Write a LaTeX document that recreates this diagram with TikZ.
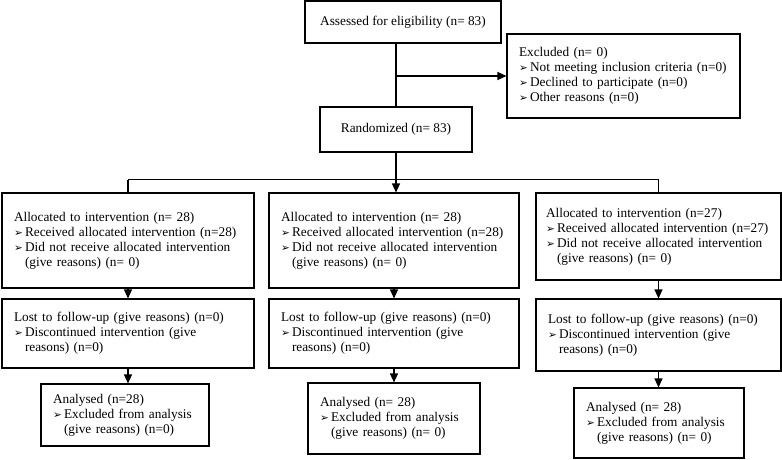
\documentclass[tikz,border=0pt]{standalone}
\usepackage{fontspec}
\setmainfont{Liberation Serif}
\newfontfamily\symfont{DejaVu Sans}
\usetikzlibrary{arrows.meta}
\newcommand{\bul}{\makebox[11pt][l]{\symfont\fontsize{10.5}{10.5}\selectfont ➢}}
\newcommand{\cont}{\hspace*{11pt}}
\tikzset{
  flowbox/.style={draw, line width=1.1pt, font=\fontsize{13.3}{15}\selectfont, inner xsep=12pt, inner ysep=2pt},
  leftbox/.style={flowbox, align=left},
  midbox/.style={flowbox, align=center},
  flowline/.style={line width=1.1pt},
  flowarrow/.style={flowline, -{Triangle[length=9pt,width=8pt]}}
}

\begin{document}
\begin{tikzpicture}[x=1pt, y=-1pt]
  \useasboundingbox (0,0) rectangle (782,459);

  % enrolment
  \node[midbox, minimum width=196pt, minimum height=42pt] (assess) at (403,22) {Assessed for eligibility (n= 83)};
  \node[leftbox, text width=209pt, minimum height=84pt] (excl) at (623.5,76) {Excluded (n= 0)\\
    \bul Not meeting inclusion criteria (n=0)\\
    \bul Declined to participate (n=0)\\
    \bul Other reasons (n=0)};
  \node[midbox, minimum width=152pt, minimum height=45pt] (rand) at (396,129.5) {Randomized (n= 83)};

  % allocation
  \node[leftbox, text width=228pt, minimum height=95pt] (a1) at (128,240.5) {Allocated to intervention (n= 28)\\
    \bul Received allocated intervention (n=28)\\
    \bul Did not receive allocated intervention\\
    \cont(give reasons) (n= 0)};
  \node[leftbox, text width=226pt, minimum height=95pt] (a2) at (394,240.5) {Allocated to intervention (n= 28)\\
    \bul Received allocated intervention (n=28)\\
    \bul Did not receive allocated intervention\\
    \cont(give reasons) (n= 0)};
  \node[leftbox, inner xsep=10pt, text width=225pt, minimum height=87pt] (a3) at (658.5,236.5) {Allocated to intervention (n=27)\\
    \bul Received allocated intervention (n=27)\\
    \bul Did not receive allocated intervention\\
    \cont(give reasons) (n= 0)};

  % follow-up
  \node[leftbox, text width=228pt, minimum height=69pt] (l1) at (128,333.5) {Lost to follow-up (give reasons) (n=0)\\
    \bul Discontinued intervention (give\\
    \cont reasons) (n=0)};
  \node[leftbox, text width=226pt, minimum height=69pt] (l2) at (394,333.5) {Lost to follow-up (give reasons) (n=0)\\
    \bul Discontinued intervention (give\\
    \cont reasons) (n=0)};
  \node[leftbox, text width=221pt, minimum height=72pt] (l3) at (658.5,335) {Lost to follow-up (give reasons) (n=0)\\
    \bul Discontinued intervention (give\\
    \cont reasons) (n=0)};

  % analysis
  \node[leftbox, text width=144pt, minimum height=62pt] (n1) at (125,415) {Analysed (n=28)\\
    \bul Excluded from analysis\\
    \cont(give reasons) (n=0)};
  \node[leftbox, text width=148pt, minimum height=71pt] (n2) at (394,418.5) {Analysed (n= 28)\\
    \bul Excluded from analysis\\
    \cont(give reasons) (n= 0)};
  \node[leftbox, text width=146pt, minimum height=70pt] (n3) at (659,423) {Analysed (n= 28)\\
    \bul Excluded from analysis\\
    \cont(give reasons) (n= 0)};

  % connectors
  \coordinate (excljoin) at (rand.north |- excl.west);
  \coordinate (fork) at ([yshift=-27pt]rand.south);
  \draw[flowline] (assess.south -| rand.north) -- (rand.north);
  \draw[flowarrow] (excljoin) -- (excl.west);
  \draw[flowline] (rand.south) -- (fork);
  \draw[flowline] (fork -| a1.north) -- (fork -| a3.north);
  \draw[flowline] (fork -| a1.north) -- (a1.north);
  \draw[flowline] (fork -| a3.north) -- (a3.north);
  \draw[flowarrow] (fork) -- (fork |- a2.north);
  \foreach \i in {1,2,3} {
    \draw[flowarrow] (a\i.south) -- (l\i.north);
    \draw[flowarrow] (l\i.south) -- (l\i.south |- n\i.north);
  }
\end{tikzpicture}
\end{document}
